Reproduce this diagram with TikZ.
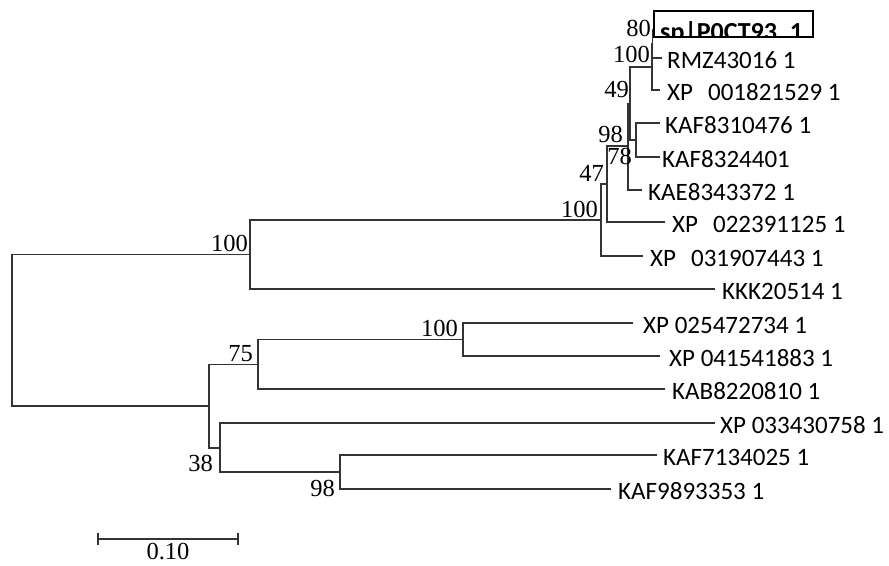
\documentclass[tikz,border=0pt]{standalone}
\usepackage{fontspec}
\setmainfont{Liberation Serif}
\newfontfamily\leaffont{Carlito}
\begin{document}
\begin{tikzpicture}[x=1pt,y=-1pt,
  br/.style={draw=black!80, line width=1.2pt},
  leaf/.style={anchor=west, inner sep=0pt, font=\leaffont\fontsize{25}{25}\selectfont},
  boot/.style={anchor=south east, inner sep=0pt, font=\fontsize{24.5}{25}\selectfont},
]
\useasboundingbox (0,0) rectangle (889,565);

% ---------- internal nodes ----------
\coordinate (R) at (12,330);
\coordinate (U) at (250,254.5);
\coordinate (V) at (601,220);
\coordinate (W) at (607,184);
\coordinate (E) at (628,146);
\coordinate (C) at (630,103.5);
\coordinate (D) at (636,140);
\coordinate (N2) at (652,67);
\coordinate (N1) at (652.5,44);
\coordinate (L) at (209,406);
\coordinate (N75) at (258,364.25);
\coordinate (NB) at (463,339.5);
\coordinate (N38) at (220,448);
\coordinate (N98) at (340,472);

% ---------- leaf ends ----------
\coordinate (e-sp) at (656,30);
\coordinate (e-rmz) at (662,58);
\coordinate (e-xp001) at (660,90);
\coordinate (e-kaf831) at (660,123);
\coordinate (e-kaf832) at (660,157);
\coordinate (e-kae) at (642,190);
\coordinate (e-xp022) at (665,222);
\coordinate (e-xp031) at (643,256);
\coordinate (e-kkk) at (715,289);
\coordinate (e-xp025) at (633,323);
\coordinate (e-xp041) at (660,356);
\coordinate (e-kab) at (665,389);
\coordinate (e-xp033) at (715,423);
\coordinate (e-kaf713) at (657,455);
\coordinate (e-kaf989) at (611,489);

% ---------- branches ----------
\draw[br] (R) |- (U);
\draw[br] (R) |- (L);
\draw[br] (U) |- (V);
\draw[br] (U) |- (e-kkk);
\draw[br] (V) |- (W);
\draw[br] (V) |- (e-xp031);
\draw[br] (W) |- (E);
\draw[br] (W) |- (e-xp022);
\draw[br] (E) |- (C);
\draw[br] (E) |- (e-kae);
\draw[br] (C) |- (N2);
\draw[br] (C) |- (D);
\draw[br] (D) |- (e-kaf831);
\draw[br] (D) |- (e-kaf832);
\draw[br] (N2) |- (N1);
\draw[br] (N2) |- (e-xp001);
\draw[br] (N1) |- (e-sp);
\draw[br] (N1) |- (e-rmz);
\draw[br] (L) |- (N75);
\draw[br] (L) |- (N38);
\draw[br] (N75) |- (NB);
\draw[br] (N75) |- (e-kab);
\draw[br] (NB) |- (e-xp025);
\draw[br] (NB) |- (e-xp041);
\draw[br] (N38) |- (e-xp033);
\draw[br] (N38) |- (N98);
\draw[br] (N98) |- (e-kaf713);
\draw[br] (N98) |- (e-kaf989);

% ---------- leaf labels ----------
\node[leaf] (t-rmz) at (667,60) {RMZ43016 1};
\node[leaf] (t-xp001) at (667,92) {XP\hspace{0.6em}001821529 1};
\node[leaf] (t-kaf831) at (665,125) {KAF8310476 1};
\node[leaf] (t-kaf832) at (662,159) {KAF8324401};
\node[leaf] (t-kae) at (648,192) {KAE8343372 1};
\node[leaf] (t-xp022) at (672,224) {XP\hspace{0.6em}022391125 1};
\node[leaf] (t-xp031) at (650,258) {XP\hspace{0.6em}031907443 1};
\node[leaf] (t-kkk) at (722,291) {KKK20514 1};
\node[leaf] (t-xp025) at (643,325) {XP 025472734 1};
\node[leaf] (t-xp041) at (669,358) {XP 041541883 1};
\node[leaf] (t-kab) at (672,391) {KAB8220810 1};
\node[leaf] (t-xp033) at (720,425) {XP 033430758 1};
\node[leaf] (t-kaf713) at (663,457) {KAF7134025 1};
\node[leaf] (t-kaf989) at (618,491) {KAF9893353 1};

% ---------- highlighted leaf ----------
\fill[white] (654,11) rectangle (813,37);
\begin{scope}
  \clip (654,11) rectangle (813,37);
  \node[anchor=base west, inner sep=0pt, font=\leaffont\bfseries\fontsize{26}{26}\selectfont] (t-sp) at (660,40) {sp|P0CT93\_1};
\end{scope}
\draw[black, line width=1.2pt] (654,11) rectangle (813,37);

% ---------- bootstrap values ----------
\node[boot] (b80) at (651,37) {80};
\node[boot] (b100a) at (650,63) {100};
\node[boot] (b49) at (629,98) {49};
\node[boot] (b98a) at (623,143) {98};
\node[boot] (b78) at (632,165) {78};
\node[boot] (b47) at (604,182) {47};
\node[boot] (b100b) at (598,218) {100};
\node[boot] (b100c) at (248,252) {100};
\node[boot] (b100d) at (458,337) {100};
\node[boot] (b75) at (253,362) {75};
\node[boot] (b38) at (213,472) {38};
\node[boot] (b98b) at (335,497) {98};

% ---------- scale bar ----------
\coordinate (s1) at (98,539);
\coordinate (s2) at (238,539);
\draw[br] (s1) -- (s2);
\draw[br] ([yshift=6pt]s1) -- ([yshift=-6pt]s1);
\draw[br] ([yshift=6pt]s2) -- ([yshift=-6pt]s2);
\node[anchor=base, inner sep=0pt, font=\fontsize{24.5}{25}\selectfont] (sl) at (168,559.5) {0.10};
\end{tikzpicture}
\end{document}
